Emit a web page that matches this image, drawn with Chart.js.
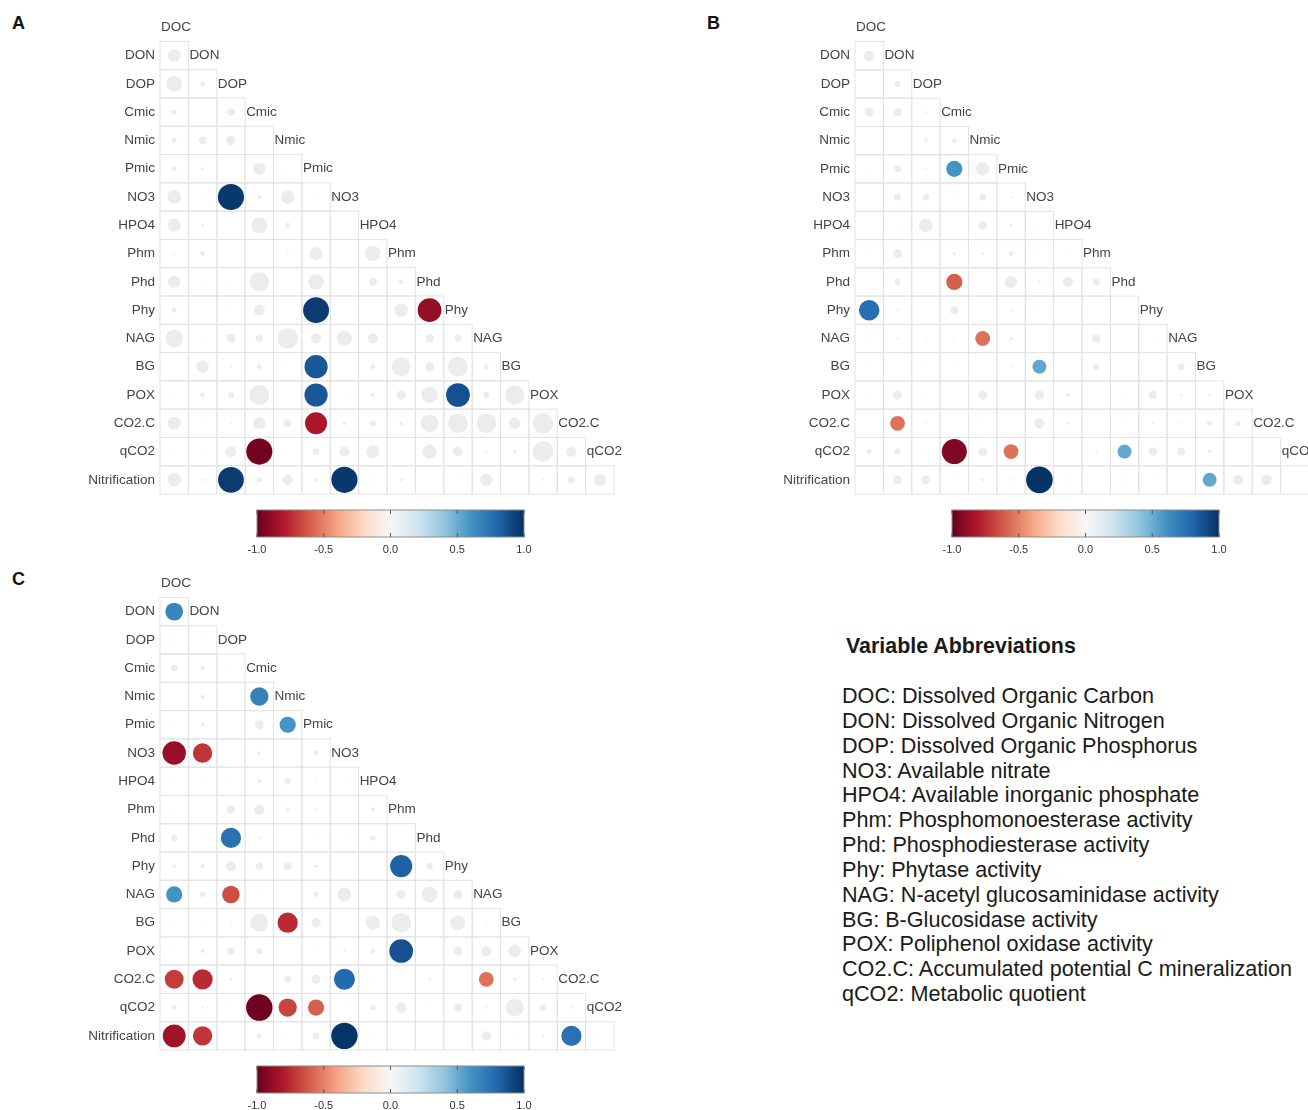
<!DOCTYPE html>
<html>
<head>
<meta charset="utf-8">
<title>Correlation matrices</title>
<script src="https://cdn.jsdelivr.net/npm/chart.js@4.4.1/dist/chart.umd.min.js"></script>
<style>
  html, body { margin: 0; padding: 0; width: 1308px; height: 1110px; overflow: hidden; background: #fff; }
  body { position: relative; font-family: "Liberation Sans", Arial, sans-serif; }
  canvas { position: absolute; }
  .tag { position: absolute; font-size: 18px; line-height: 18px; font-weight: bold; color: #111; }
  #legend-title { position: absolute; left: 846px; top: 633.5px; font-size: 21.4px; line-height: 24.85px; font-weight: bold; color: #1a1a1a; white-space: nowrap; }
  #legend { position: absolute; left: 842px; top: 684px; font-size: 21.6px; line-height: 24.85px; color: #1a1a1a; white-space: nowrap; }
</style>
</head>
<body>
<div class="tag" style="left:12px;top:14px">A</div>
<div class="tag" style="left:707px;top:14px">B</div>
<div class="tag" style="left:12px;top:570px">C</div>

<canvas id="panel-a" width="650" height="560" style="left:0px;top:0px"></canvas>
<canvas id="panel-b" width="650" height="560" style="left:695px;top:0px"></canvas>
<canvas id="panel-c" width="650" height="560" style="left:0px;top:556px"></canvas>

<div id="legend-title">Variable Abbreviations</div>
<div id="legend"></div>

<script>
// variables, in matrix order (rows DON..Nitrification, columns DOC..qCO2)
var variables = ['DOC','DON','DOP','Cmic','Nmic','Pmic','NO3','HPO4','Phm','Phd','Phy','NAG','BG','POX','CO2.C','qCO2','Nitrification'];

// lower triangle, one row per variable from DON down
var corrA = [
  [0.48],
  [0.58, 0.18],
  [0.18, 0, 0.28],
  [0.18, 0.28, 0.35, 0],
  [0.18, 0.1, 0, 0.46, 0.05],
  [0.5, 0.06, 0.97, 0.13, 0.5, 0.05],
  [0.48, 0.1, 0, 0.6, 0.18, 0, 0],
  [0.08, 0.18, 0, 0, 0.08, 0.48, 0, 0.58],
  [0.46, 0.05, 0.06, 0.73, 0, 0.58, 0, 0.3, 0.18],
  [0.18, 0, 0.05, 0.4, 0, 0.96, 0, 0, 0.5, -0.88],
  [0.66, 0.05, 0.33, 0.28, 0.76, 0.38, 0.55, 0.38, 0, 0.3, 0.25],
  [0, 0.46, 0.08, 0.18, 0.05, 0.86, 0, 0.18, 0.7, 0.33, 0.74, 0.18],
  [0.06, 0.18, 0.23, 0.74, 0, 0.86, 0.06, 0.15, 0.33, 0.6, 0.88, 0.23, 0.72],
  [0.48, 0.06, 0.08, 0.46, 0.28, -0.82, 0.13, 0.23, 0.15, 0.66, 0.73, 0.73, 0.43, 0.76],
  [0.05, 0.05, 0.4, -0.97, 0, 0.25, 0.38, 0.48, 0, 0.53, 0.35, 0.08, 0.15, 0.76, 0.38],
  [0.5, 0.1, 0.96, 0.18, 0.38, 0.13, 0.97, 0.06, 0.1, 0, 0.05, 0.46, 0, 0.08, 0.25, 0.46]
];
var sigA = [['NO3','DOP'],['Phy','Pmic'],['Phy','Phd'],['BG','Pmic'],['POX','Pmic'],['POX','Phy'],
            ['CO2.C','Pmic'],['qCO2','Cmic'],['Nitrification','DOP'],['Nitrification','NO3']];

var corrB = [
  [0.38],
  [0, 0.23],
  [0.33, 0.3, 0.08],
  [0, 0, 0.13, 0.18],
  [0.06, 0.25, 0.08, 0.6, 0.5],
  [0, 0.25, 0.25, 0.06, 0.25, 0.08],
  [0, 0.06, 0.5, 0, 0.33, 0.1, 0.05],
  [0.05, 0.33, 0, 0.13, 0.1, 0.18, 0.05, 0.05],
  [0, 0.23, 0, -0.6, 0, 0.46, 0.1, 0.38, 0.25],
  [0.76, 0.1, 0, 0.3, 0, 0.08, 0.06, 0, 0, 0],
  [0.08, 0.08, 0.08, 0.08, -0.55, 0.13, 0, 0, 0.3, 0, 0.06],
  [0.06, 0, 0.06, 0.05, 0, 0.08, 0.52, 0, 0.23, 0, 0, 0.25],
  [0.05, 0.33, 0.05, 0, 0.33, 0, 0.33, 0.13, 0, 0.05, 0.3, 0.1, 0.1],
  [0, -0.55, 0.08, 0, 0.05, 0, 0.38, 0.1, 0, 0.05, 0.08, 0.08, 0.2, 0.2],
  [0.18, 0.23, 0.06, -0.93, 0.33, -0.55, 0, 0, 0.08, 0.52, 0.3, 0.3, 0.15, 0, 0],
  [0, 0.33, 0.33, 0.05, 0.1, 0.08, 0.99, 0.06, 0, 0.08, 0.05, 0, 0.52, 0.38, 0.38, 0]
];
var sigB = [['Pmic','Cmic'],['Phd','Cmic'],['Phy','DOC'],['NAG','Nmic'],['BG','NO3'],['CO2.C','DON'],
            ['qCO2','Cmic'],['qCO2','Pmic'],['qCO2','Phd'],['Nitrification','NO3'],['Nitrification','BG']];

var corrC = [
  [0.66],
  [0.05, 0.05],
  [0.25, 0.15, 0.06],
  [0, 0.15, 0, 0.68],
  [0.06, 0.13, 0, 0.33, 0.6],
  [-0.87, -0.72, 0, 0.13, 0, 0.18],
  [0.06, 0.05, 0.05, 0.13, 0.23, 0.08, 0.05],
  [0.05, 0, 0.3, 0.38, 0.15, 0.08, 0, 0.15],
  [0.23, 0.05, 0.75, 0.1, 0, 0.05, 0.05, 0.2, 0],
  [0.13, 0.15, 0.38, 0.28, 0.28, 0.13, 0, 0, 0.82, 0.23],
  [0.6, 0.2, -0.65, 0.05, 0, 0.18, 0.5, 0, 0.33, 0.58, 0.33],
  [0.05, 0.05, 0.08, 0.66, -0.75, 0.35, 0, 0.53, 0.73, 0, 0.56, 0.08],
  [0.05, 0.15, 0.28, 0.23, 0, 0.05, 0.08, 0.18, 0.88, 0, 0.33, 0.38, 0.46],
  [-0.7, -0.75, 0.1, 0, 0.25, 0.33, 0.78, 0.05, 0, 0.1, 0, -0.55, 0.15, 0.08],
  [0.18, 0.1, 0.05, -0.98, -0.68, -0.6, 0.05, 0.2, 0.38, 0.05, 0.3, 0.08, 0.66, 0.25, 0.08],
  [-0.85, -0.72, 0, 0.18, 0.05, 0.25, 0.98, 0.05, 0, 0, 0, 0.35, 0.05, 0.1, 0.75, 0.05]
];
var sigC = [['DON','DOC'],['Nmic','Cmic'],['Pmic','Nmic'],['NO3','DOC'],['NO3','DON'],['Phd','DOP'],
            ['Phy','Phm'],['NAG','DOC'],['NAG','DOP'],['BG','Nmic'],['POX','Phm'],['CO2.C','DOC'],
            ['CO2.C','DON'],['CO2.C','NO3'],['CO2.C','NAG'],['qCO2','Cmic'],['qCO2','Nmic'],['qCO2','Pmic'],
            ['Nitrification','DOC'],['Nitrification','DON'],['Nitrification','NO3'],['Nitrification','CO2.C']];

// colour bar
var rdbu = ['#67001F','#B2182B','#D6604D','#F4A582','#FDDBC7','#F7F7F7','#D1E5F0','#92C5DE','#4393C3','#2166AC','#053061'];
var barTicks = [-1, -0.5, 0, 0.5, 1];

var abbreviations = [
  'DOC: Dissolved Organic Carbon',
  'DON: Dissolved Organic Nitrogen',
  'DOP: Dissolved Organic Phosphorus',
  'NO3: Available nitrate',
  'HPO4: Available inorganic phosphate',
  'Phm: Phosphomonoesterase activity',
  'Phd: Phosphodiesterase activity',
  'Phy: Phytase activity',
  'NAG: N-acetyl glucosaminidase activity',
  'BG: B-Glucosidase activity',
  'POX: Poliphenol oxidase activity',
  'CO2.C: Accumulated potential C mineralization',
  'qCO2: Metabolic quotient'
];

var legendDiv = document.getElementById('legend');
abbreviations.forEach(function(line){
  var d = document.createElement('div');
  d.textContent = line;
  legendDiv.appendChild(d);
});

var labelFont = '13.5px "Liberation Sans", Arial, sans-serif';
var labelColor = '#444';
var nCols = variables.length - 1;
var axisWidth = 160, padRight = 36;

function hexToRgb(h) {
  return [parseInt(h.substr(1,2),16), parseInt(h.substr(3,2),16), parseInt(h.substr(5,2),16)];
}

function corrColor(v) {
  var t = (v + 1) / 2 * (rdbu.length - 1);
  var i = Math.min(Math.floor(t), rdbu.length - 2);
  var f = t - i;
  var a = hexToRgb(rdbu[i]), b = hexToRgb(rdbu[i + 1]);
  return 'rgb(' + Math.round(a[0] + (b[0]-a[0])*f) + ',' + Math.round(a[1] + (b[1]-a[1])*f) + ',' + Math.round(a[2] + (b[2]-a[2])*f) + ')';
}

function buildPoints(corr, sig, wantSig) {
  var pts = [];
  corr.forEach(function(row, i){
    var rowName = variables[i + 1];
    row.forEach(function(v, c){
      var colName = variables[c];
      var isSig = sig.some(function(p){ return p[0] === rowName && p[1] === colName; });
      if (isSig === wantSig) pts.push({x: colName, y: rowName, v: v});
    });
  });
  return pts;
}

// radius is resolved while parsing, before the scales have a size, so use the canvas width
function circleRadius(ctx) {
  var cell = (ctx.chart.width - axisWidth - padRight) / nCols;
  return Math.abs(ctx.raw.v) * cell * 0.475;
}

// cell outlines, diagonal labels and the colour bar under each matrix
var matrixPlugin = {
  id: 'matrix',
  beforeDatasetsDraw: function(chart) {
    var ctx = chart.ctx, xs = chart.scales.x, ys = chart.scales.y;
    var cw = xs.width / nCols, ch = ys.height / variables.length;
    ctx.save();
    ctx.strokeStyle = '#e3e3e3';
    ctx.lineWidth = 1;
    for (var r = 1; r < variables.length; r++) {
      for (var c = 0; c < r; c++) {
        ctx.strokeRect(xs.getPixelForValue(c) - cw/2, ys.getPixelForValue(r) - ch/2, cw, ch);
      }
    }
    ctx.font = labelFont;
    ctx.fillStyle = labelColor;
    ctx.textAlign = 'left';
    ctx.textBaseline = 'middle';
    for (var d = 0; d < nCols; d++) {
      ctx.fillText(variables[d], xs.getPixelForValue(d) - cw/2 + 1, ys.getPixelForValue(d));
    }
    ctx.restore();
  },
  afterDraw: function(chart) {
    var ctx = chart.ctx, area = chart.chartArea;
    var x0 = area.left + 97, x1 = x0 + 267, y0 = area.bottom + 16, h = 27;
    ctx.save();
    var g = ctx.createLinearGradient(x0, 0, x1, 0);
    rdbu.forEach(function(col, i){ g.addColorStop(i / (rdbu.length - 1), col); });
    ctx.fillStyle = g;
    ctx.fillRect(x0, y0, x1 - x0, h);
    ctx.strokeStyle = '#8c8c8c';
    ctx.lineWidth = 1;
    ctx.strokeRect(x0, y0, x1 - x0, h);
    ctx.font = '11px "Liberation Sans", Arial, sans-serif';
    ctx.fillStyle = '#333';
    ctx.textAlign = 'center';
    ctx.textBaseline = 'middle';
    barTicks.forEach(function(t){
      var x = x0 + (t + 1) / 2 * (x1 - x0);
      ctx.strokeStyle = '#555';
      ctx.beginPath();
      ctx.moveTo(x, y0); ctx.lineTo(x, y0 + 4);
      ctx.moveTo(x, y0 + h - 4); ctx.lineTo(x, y0 + h);
      ctx.stroke();
      ctx.fillText(t.toFixed(1), x, y0 + h + 12.5);
    });
    ctx.restore();
  }
};

function makePanel(id, corr, sig) {
  return new Chart(document.getElementById(id).getContext('2d'), {
    type: 'bubble',
    data: {
      datasets: [{
          data: buildPoints(corr, sig, false),
          backgroundColor: '#ececec',
          borderWidth: 0,
          radius: circleRadius
        }, {
          data: buildPoints(corr, sig, true),
          backgroundColor: function(ctx){ return corrColor(ctx.raw.v); },
          borderWidth: 0,
          radius: circleRadius
        }
      ]
    },
    options: {
      responsive: false,
      animation: false,
      devicePixelRatio: 1,
      events: [],
      layout: { padding: { left: 0, top: 11.6, right: padRight, bottom: 66 } },
      plugins: { legend: { display: false }, tooltip: { enabled: false } },
      scales: {
        x: { type: 'category', labels: variables.slice(0, nCols), offset: true, display: false },
        y: {
          type: 'category',
          labels: variables,
          offset: true,
          grid: { display: false, drawTicks: false },
          border: { display: false },
          ticks: {
            autoSkip: false,
            padding: 5,
            color: labelColor,
            font: { family: '"Liberation Sans", Arial, sans-serif', size: 13.5 },
            callback: function(val, idx){ return idx === 0 ? '' : variables[idx]; }
          },
          afterFit: function(scale){ scale.width = axisWidth; }
        }
      }
    },
    plugins: [matrixPlugin]
  });
}

makePanel('panel-a', corrA, sigA);
makePanel('panel-b', corrB, sigB);
makePanel('panel-c', corrC, sigC);
</script>
</body>
</html>
